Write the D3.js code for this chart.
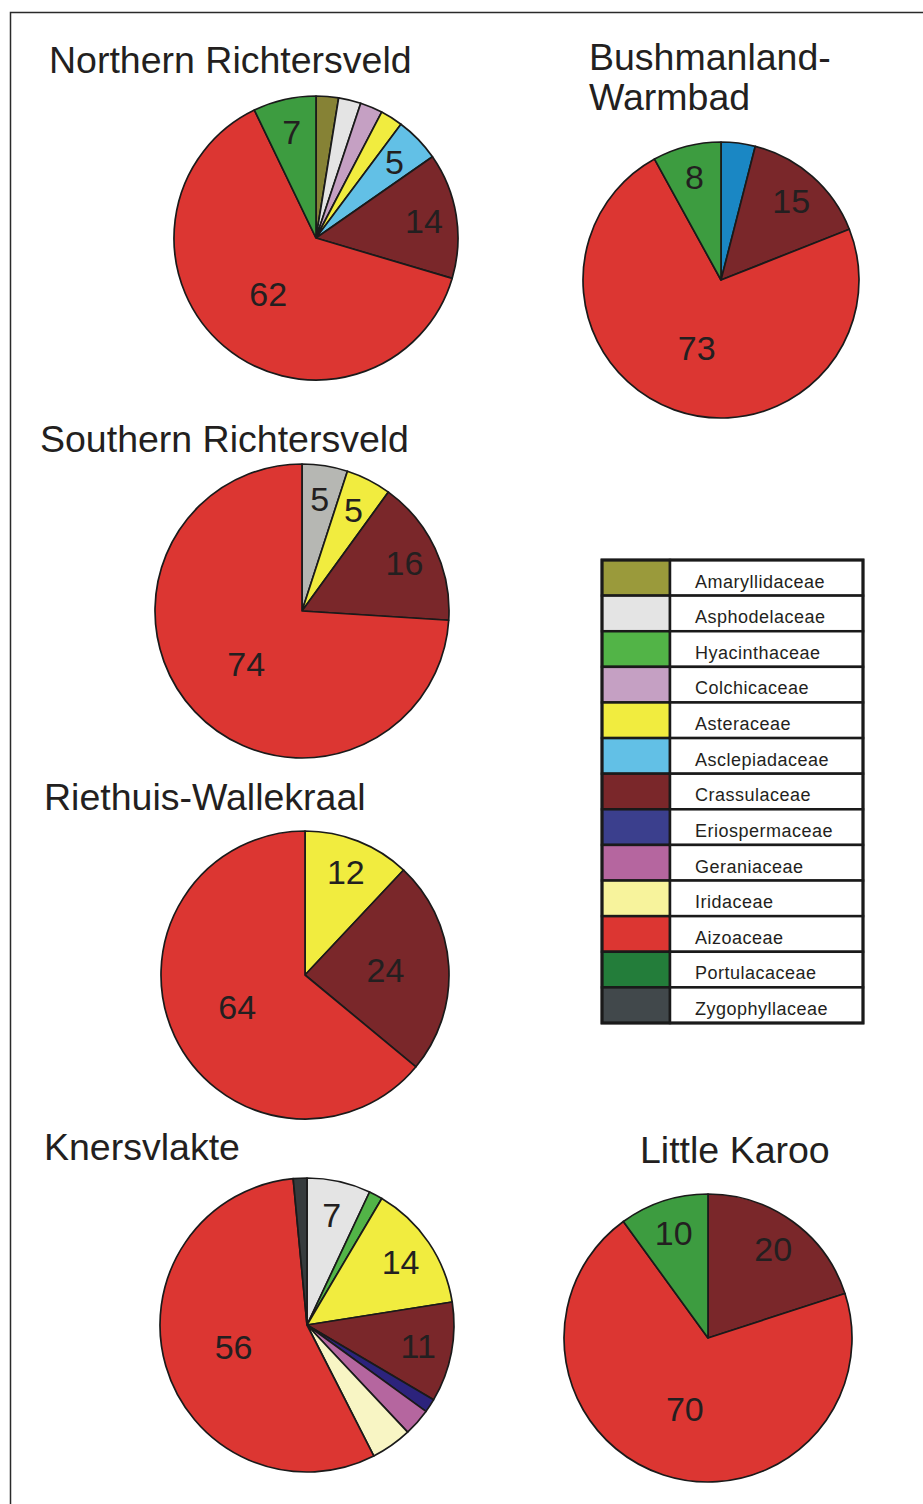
<!DOCTYPE html>
<meta charset="utf-8">
<html>
<head>
<style>
    body { margin: 0; background: #fff; }
    svg text { font-family: "Liberation Sans", Arial, sans-serif; fill: #231f20; }
    .title { font-size: 37.5px; }
    .num { font-size: 34px; }
    .legend-label { font-size: 18px; letter-spacing: 0.5px; }
</style>
</head>
<body>
<svg width="923" height="1504"></svg>
<script src="https://cdn.jsdelivr.net/npm/d3@7"></script>
<script>

// legend families (top to bottom)
var families = ["Amaryllidaceae", "Asphodelaceae", "Hyacinthaceae", "Colchicaceae",
    "Asteraceae", "Asclepiadaceae", "Crassulaceae", "Eriospermaceae", "Geraniaceae",
    "Iridaceae", "Aizoaceae", "Portulacaceae", "Zygophyllaceae"];

// one pair of arrays per region, slices clockwise from 12 o'clock
var northFamilies = ["Amaryllidaceae", "Asphodelaceae", "Colchicaceae", "Asteraceae",
    "Asclepiadaceae", "Crassulaceae", "Aizoaceae", "Portulacaceae"];
var northValues = [2.5, 2.5, 2.5, 2.5, 5, 14, 62, 7];

var bushFamilies = ["Asclepiadaceae", "Crassulaceae", "Aizoaceae", "Portulacaceae"];
var bushValues = [4, 15, 73, 8];

var southFamilies = ["Asphodelaceae", "Asteraceae", "Crassulaceae", "Aizoaceae"];
var southValues = [5, 5, 16, 74];

var riethFamilies = ["Asteraceae", "Crassulaceae", "Aizoaceae"];
var riethValues = [12, 24, 64];

var knersFamilies = ["Asphodelaceae", "Hyacinthaceae", "Asteraceae", "Crassulaceae",
    "Eriospermaceae", "Geraniaceae", "Iridaceae", "Aizoaceae", "Zygophyllaceae"];
var knersValues = [7, 1.5, 14, 11, 1.5, 3, 4.5, 56, 1.5];

var karooFamilies = ["Crassulaceae", "Aizoaceae", "Portulacaceae"];
var karooValues = [20, 70, 10];

// values that carry a number in the pie
var unlabeledBelow = 5;

var svg = d3.select("svg");

// legend colours
var color = d3.scaleOrdinal()
    .domain(families)
    .range(["#9a9a3b", "#e4e4e4", "#52b447", "#c5a0c3", "#f1ec3f", "#62c0e6", "#7a272a",
            "#3b3f8d", "#b5669f", "#f7f39c", "#dc3632", "#237d3a", "#41484b"]);

// the printed pies use slightly different shades than the legend boxes
function pieFill(region, fam) {
    if (fam == "Portulacaceae") return "#3d9c40";
    if (fam == "Amaryllidaceae") return "#868235";
    if (fam == "Iridaceae") return "#f8f5c4";
    if (fam == "Eriospermaceae") return "#2c237c";
    if (fam == "Zygophyllaceae") return "#363b3d";
    if (region == "Bushmanland" && fam == "Asclepiadaceae") return "#1a87c4";
    if (region == "Southern" && fam == "Asphodelaceae") return "#b6b7b3";
    return color(fam);
}

// frame (only left and top edges fall inside the page)
svg.append("rect")
    .attr("x", 10.5).attr("y", 12.5)
    .attr("width", 1000).attr("height", 1600)
    .attr("fill", "none")
    .attr("stroke", "#2a2a2a")
    .attr("stroke-width", 1.5);

var pie = d3.pie().sort(null).value(function(d) { return d.v; });

// how far out the number sits, as a share of the radius
function labelRadius(v) {
    if (v >= 50) return 0.52;
    if (v > 22) return 0.56;
    return 0.77;
}

function drawPie(region, fams, vals, cx, cy, r) {
    var data = fams.map(function(f, i) { return {f: f, v: vals[i]}; });
    var arcs = pie(data);
    var arc = d3.arc().innerRadius(0).outerRadius(r);
    var g = svg.append("g").attr("transform", "translate(" + cx + "," + cy + ")");

    g.selectAll("path")
        .data(arcs)
        .enter().append("path")
        .attr("d", arc)
        .attr("fill", function(d) { return pieFill(region, d.data.f); })
        .attr("stroke", "#1a1a1a")
        .attr("stroke-width", 1.7)
        .attr("stroke-linejoin", "round");

    g.selectAll("text")
        .data(arcs.filter(function(d) { return d.data.v >= unlabeledBelow; }))
        .enter().append("text")
        .attr("class", "num")
        .attr("text-anchor", "middle")
        .attr("dy", "0.36em")
        .attr("transform", function(d) {
            var k = labelRadius(d.data.v);
            var c = d3.arc().innerRadius(r * k).outerRadius(r * k).centroid(d);
            return "translate(" + c[0] + "," + c[1] + ")";
        })
        .text(function(d) { return d.data.v; });
}

drawPie("Northern", northFamilies, northValues, 316, 238, 142);
drawPie("Bushmanland", bushFamilies, bushValues, 721, 280, 138);
drawPie("Southern", southFamilies, southValues, 302, 611, 147);
drawPie("Riethuis", riethFamilies, riethValues, 305, 975, 144);
drawPie("Knersvlakte", knersFamilies, knersValues, 307, 1325, 147);
drawPie("Karoo", karooFamilies, karooValues, 708, 1338, 144);

// titles
function title(lines, x, y) {
    var t = svg.append("text").attr("class", "title").attr("x", x).attr("y", y);
    lines.forEach(function(s, i) {
        t.append("tspan").attr("x", x).attr("dy", i == 0 ? 0 : 40).text(s);
    });
}
title(["Northern Richtersveld"], 49, 73);
title(["Bushmanland-", "Warmbad"], 589, 70);
title(["Southern Richtersveld"], 40, 452);
title(["Riethuis-Wallekraal"], 44, 810);
title(["Knersvlakte"], 44, 1160);
title(["Little Karoo"], 640, 1163);

// legend table
var legX = 602, swatchW = 68, legW = 261, legTop = 560, legBottom = 1023;
var y = d3.scaleBand().domain(families).range([legTop, legBottom]);
var leg = svg.append("g").attr("class", "legend");

leg.selectAll("rect.sw")
    .data(families)
    .enter().append("rect")
    .attr("class", "sw")
    .attr("x", legX).attr("y", function(d) { return y(d); })
    .attr("width", swatchW).attr("height", y.bandwidth())
    .attr("fill", function(d) { return color(d); })
    .attr("stroke", "#1a1a1a").attr("stroke-width", 2.5);

leg.selectAll("rect.cell")
    .data(families)
    .enter().append("rect")
    .attr("class", "cell")
    .attr("x", legX + swatchW).attr("y", function(d) { return y(d); })
    .attr("width", legW - swatchW).attr("height", y.bandwidth())
    .attr("fill", "#fff")
    .attr("stroke", "#1a1a1a").attr("stroke-width", 2.5);

leg.selectAll("text")
    .data(families)
    .enter().append("text")
    .attr("class", "legend-label")
    .attr("x", legX + swatchW + 25)
    .attr("y", function(d) { return y(d) + y.bandwidth() - 8; })
    .text(function(d) { return d; });

leg.append("rect")
    .attr("x", legX).attr("y", legTop)
    .attr("width", legW).attr("height", legBottom - legTop)
    .attr("fill", "none")
    .attr("stroke", "#1a1a1a").attr("stroke-width", 3);

</script>
</body>
</html>
